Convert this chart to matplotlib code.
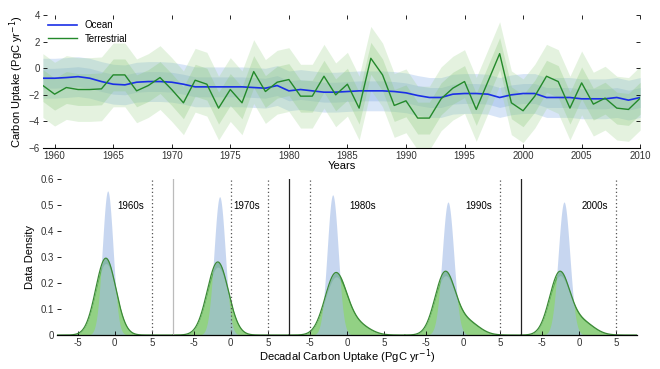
import numpy as np
import matplotlib.pyplot as plt

plt.rcParams['font.family'] = ['Liberation Sans', 'DejaVu Sans']
plt.rcParams['font.size'] = 7

# ---- top panel: annual carbon uptake ----
years = list(range(1959, 2011))
ocean = [-0.75, -0.75, -0.7, -0.63, -0.75, -1.0, -1.2, -1.25, -1.05, -1.0,
         -1.0, -1.05, -1.2, -1.4, -1.4, -1.4, -1.4, -1.4, -1.45, -1.5,
         -1.3, -1.7, -1.6, -1.7, -1.8, -1.8, -1.75, -1.7, -1.7, -1.7,
         -1.75, -1.85, -2.05, -2.2, -2.2, -1.95, -1.9, -1.9, -1.95, -2.2,
         -2.0, -1.9, -1.9, -2.2, -2.2, -2.2, -2.3, -2.3, -2.3, -2.2,
         -2.4, -2.2]
terrestrial = [-1.3, -1.95, -1.45, -1.6, -1.6, -1.55, -0.5, -0.5, -1.7, -1.3,
               -0.7, -1.6, -2.6, -0.9, -1.2, -3.0, -1.6, -2.6, -0.25, -1.75,
               -1.05, -0.85, -2.1, -2.1, -0.6, -2.0, -1.2, -3.0, 0.75, -0.5,
               -2.8, -2.45, -3.75, -3.75, -2.3, -1.5, -1.0, -3.1, -1.0, 1.1,
               -2.6, -3.2, -2.1, -0.6, -1.0, -3.0, -1.1, -2.7, -2.25, -3.0,
               -3.1, -2.25]
ocean_sd = 0.75
land_sd = 1.2

# ---- bottom panel: decadal distributions ----
decades = ['1960s', '1970s', '1980s', '1990s', '2000s']
ocean_mean = [-0.95, -1.5, -1.9, -2.0, -2.0]
ocean_dsd = [0.72, 0.75, 0.74, 0.78, 0.78]
land_mean = [-1.2, -1.75, -1.5, -2.4, -2.6]
land_dsd = [1.35, 1.42, 1.45, 1.35, 1.35]
land_tail = [0.0, 0.0, 0.15, 0.2, 0.2]
dotted = [(0, 5), (1, 0), (1, 5), (2, -5), (3, 5), (4, 5)]


def normal(x, m, s):
    return np.exp(-0.5 * ((x - m) / s) ** 2) / (s * np.sqrt(2 * np.pi))


fig = plt.figure(figsize=(6.6, 3.69), dpi=100)

ax1 = fig.add_axes([0.065, 0.599, 0.905, 0.36])
yr = np.array(years)
oc = np.array(ocean)
te = np.array(terrestrial)
ax1.fill_between(yr, oc - 2 * ocean_sd, oc + 2 * ocean_sd, color='#a9c6ee', alpha=0.45, lw=0)
ax1.fill_between(yr, oc - ocean_sd, oc + ocean_sd, color='#8fb2e6', alpha=0.4, lw=0)
ax1.fill_between(yr, te - 2 * land_sd, te + 2 * land_sd, color='#a6d796', alpha=0.3, lw=0)
ax1.fill_between(yr, te - land_sd, te + land_sd, color='#8cc97c', alpha=0.3, lw=0)
ax1.plot(yr, oc, color='#1a2fe6', lw=1.2, label='Ocean')
ax1.plot(yr, te, color='#23892a', lw=1.0, label='Terrestrial')
ax1.set_xlim(1959, 2010)
ax1.set_ylim(-6, 4)
ax1.set_xticks(range(1960, 2011, 5))
ax1.set_yticks(range(-6, 5, 2))
ax1.tick_params(direction='in', length=3, top=True, right=True, pad=2, width=0.6,
                labelcolor='#333333')
for s in ['top', 'right', 'left']:
    ax1.spines[s].set_visible(False)
ax1.spines['bottom'].set_linewidth(0.8)
ax1.set_xlabel('Years', fontsize=8, labelpad=0)
ax1.set_ylabel('Carbon Uptake (PgC yr$^{-1}$)', fontsize=8, labelpad=2)
ax1.legend(loc='upper left', frameon=False, fontsize=7, handlelength=3,
           borderaxespad=0.1, labelspacing=0.4, bbox_to_anchor=(0.0, 1.0))

# bottom
ax2 = fig.add_axes([0.086, 0.092, 0.879, 0.423])
step = 15.6
x = np.linspace(-7.8, 7.8, 600)
ticks, labels = [], []
for i, d in enumerate(decades):
    off = i * step
    po = normal(x, ocean_mean[i], ocean_dsd[i])
    w = land_tail[i]
    pl = (1 - w) * normal(x, land_mean[i], land_dsd[i]) + w * normal(x, land_mean[i] + 3.0, 1.6)
    ax2.fill_between(x + off, 0, pl, color='#5fb255', lw=0)
    ax2.fill_between(x + off, 0, pl * 0.93, color='#92d184', lw=0)
    ax2.plot(x + off, pl, color='#3b8a36', lw=0.9)
    ax2.fill_between(x + off, 0, po, color='#a3bce6', alpha=0.6, lw=0)
    ax2.text(off + 2.1, 0.495, d, ha='center', va='center', fontsize=7)
    for t in (-5, 0, 5):
        ticks.append(off + t)
        labels.append(str(t))
for i, v in dotted:
    ax2.axvline(i * step + v, color='#555555', lw=0.9, ls=(0, (1, 2)))
ax2.axvline(step / 2, color='#bbbbbb', lw=0.9)
ax2.axvline(step * 1.5, color='#222222', lw=0.9)
ax2.axvline(step * 3.5, color='#222222', lw=0.9)
ax2.set_xlim(-7.8, 4 * step + 7.8)
ax2.set_ylim(0, 0.6)
ax2.set_xticks(ticks)
ax2.set_xticklabels(labels)
ax2.set_yticks(np.arange(0, 0.61, 0.1))
ax2.set_yticklabels(['0', '0.1', '0.2', '0.3', '0.4', '0.5', '0.6'])
ax2.tick_params(direction='in', length=3, pad=2, width=0.6, labelcolor='#333333')
for s in ['top', 'right', 'left']:
    ax2.spines[s].set_visible(False)
ax2.spines['bottom'].set_linewidth(0.9)
ax2.set_xlabel('Decadal Carbon Uptake (PgC yr$^{-1}$)', fontsize=8, labelpad=0)
ax2.set_ylabel('Data Density', fontsize=8, labelpad=4)

fig.savefig('out.png', dpi=100)
